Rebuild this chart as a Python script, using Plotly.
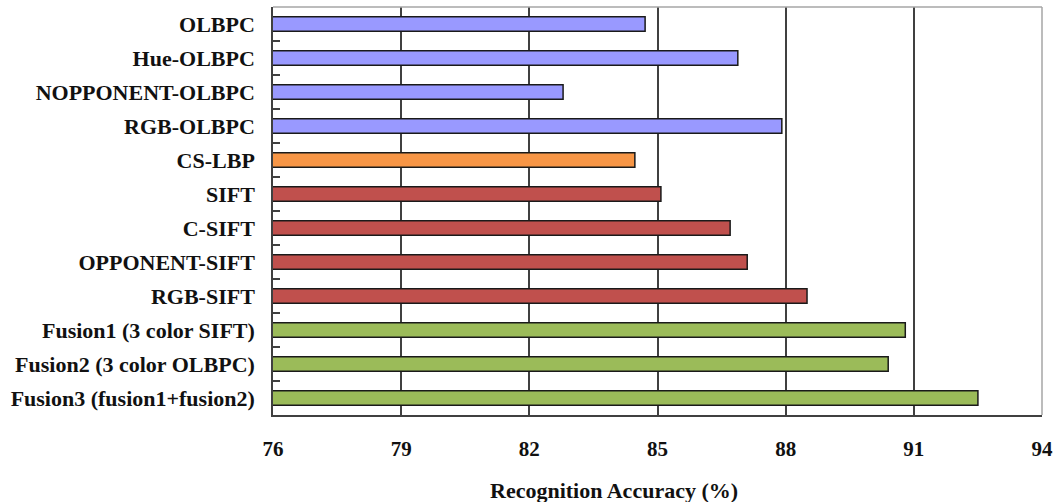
import plotly.graph_objects as go

methods = ["OLBPC", "Hue-OLBPC", "NOPPONENT-OLBPC", "RGB-OLBPC", "CS-LBP", "SIFT",
           "C-SIFT", "OPPONENT-SIFT", "RGB-SIFT", "Fusion1 (3 color SIFT)",
           "Fusion2 (3 color OLBPC)", "Fusion3 (fusion1+fusion2)"]
accuracy = [84.71, 86.88, 82.79, 87.91, 84.47, 85.08, 86.70, 87.10, 88.50, 90.80, 90.40, 92.50]
groups = ["olbpc", "olbpc", "olbpc", "olbpc", "cslbp", "sift", "sift", "sift", "sift",
          "fusion", "fusion", "fusion"]
group_colors = {"olbpc": "#9999FF", "cslbp": "#F79646", "sift": "#C0504D", "fusion": "#9BBB59"}
x_ticks = [76, 79, 82, 85, 88, 91, 94]

W, H = 1053, 502
L, R, T, B = 273, 11, 7, 87

font_family = "Liberation Serif, Times New Roman, serif"

fig = go.Figure(go.Bar(
    x=accuracy, y=methods, orientation="h",
    marker=dict(color=[group_colors[g] for g in groups],
                line=dict(color="#1a1a1a", width=1.5)),
    width=0.42,
))

fig.update_layout(
    width=W, height=H,
    margin=dict(l=L, r=R, t=T, b=B, pad=0, autoexpand=False),
    paper_bgcolor="white", plot_bgcolor="white",
    showlegend=False,
    font=dict(family=font_family, size=22, color="#111111"),
    xaxis=dict(
        range=[76, 94], tickvals=x_ticks, ticktext=[f"<b>{v}</b>" for v in x_ticks],
        showgrid=True, gridcolor="#404040", gridwidth=1.5,
        showline=True, linecolor="#404040", linewidth=1.5,
        ticks="", ticklabelstandoff=14, zeroline=False, automargin=False,
        tickfont=dict(size=21, family=font_family, color="#111111"),
    ),
    yaxis=dict(
        autorange="reversed", automargin=False,
        tickvals=methods, ticktext=[f"<b>{m}</b>" for m in methods],
        showline=True, linecolor="#404040", linewidth=1.5,
        ticks="inside", tickson="boundaries", ticklen=7, tickcolor="#404040", tickwidth=1.5,
        ticklabelstandoff=12, showgrid=False,
        tickfont=dict(size=22, family=font_family, color="#111111"),
    ),
    bargap=0.58,
)

# light grey top and right frame
fig.add_shape(type="line", xref="paper", yref="paper", x0=0, x1=1, y0=1, y1=1,
              line=dict(color="#A6A6A6", width=1.5), layer="above")
fig.add_shape(type="line", xref="paper", yref="paper", x0=1, x1=1, y0=0, y1=1,
              line=dict(color="#A6A6A6", width=1.5), layer="above")

plot_w = W - L - R
fig.add_annotation(
    text="<b>Recognition Accuracy (%)</b>", xref="paper", yref="paper",
    x=(614 - L) / plot_w, y=-(490 - (H - B)) / (H - T - B),
    xanchor="center", yanchor="middle", showarrow=False,
    font=dict(size=22, family=font_family, color="#111111"),
)

fig.write_html("out.html", config={"displayModeBar": False},
               post_script="document.body.style.margin='0';document.body.style.overflow='hidden';")
